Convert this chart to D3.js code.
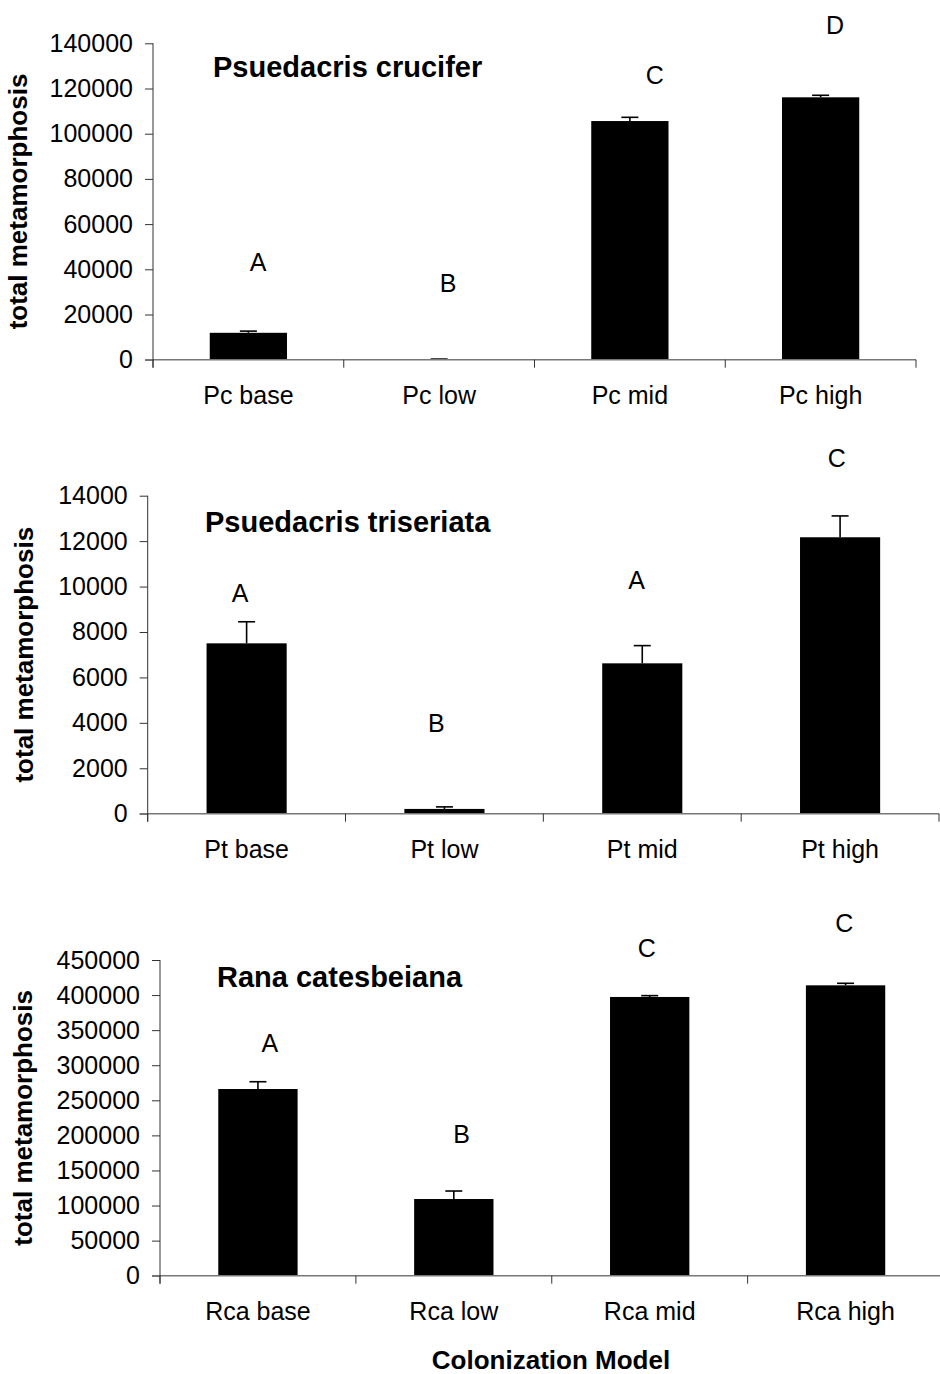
<!DOCTYPE html>
<html>
<head>
<meta charset="utf-8">
<script src="https://cdn.jsdelivr.net/npm/d3@7"></script>
<style>
  html, body { margin: 0; padding: 0; background: #fff; }
  svg { display: block; }
  text { font-family: "Liberation Sans", Arial, sans-serif; fill: #000; }
</style>
</head>
<body>
<div id="chart"></div>
<script>
// ---------------- DATA ----------------
const titles = ["Psuedacris crucifer", "Psuedacris triseriata", "Rana catesbeiana"];

const catsPc  = ["Pc base", "Pc low", "Pc mid", "Pc high"];
const catsPt  = ["Pt base", "Pt low", "Pt mid", "Pt high"];
const catsRca = ["Rca base", "Rca low", "Rca mid", "Rca high"];

const valuesPc  = [11900, 120, 105600, 116100];
const errorsPc  = [750, 150, 1650, 900];
const valuesPt  = [7500, 210, 6620, 12170];
const errorsPt  = [950, 90, 780, 940];
const valuesRca = [266100, 109300, 397300, 413900];
const errorsRca = [10400, 11400, 1900, 2900];

const lettersPc  = ["A", "B", "C", "D"];
const lettersPt  = ["A", "B", "A", "C"];
const lettersRca = ["A", "B", "C", "C"];
// letter anchor heights, in data units
const letterValPc  = [43230, 33940, 125970, 148100];
const letterValPt  = [9700, 3980, 10290, 15650];
const letterValRca = [331260, 201980, 466680, 503170];

const ticksPc  = [0, 20000, 40000, 60000, 80000, 100000, 120000, 140000];
const ticksPt  = [0, 2000, 4000, 6000, 8000, 10000, 12000, 14000];
const ticksRca = [0, 50000, 100000, 150000, 200000, 250000, 300000, 350000, 400000, 450000];

const yAxisTitle = "total metamorphosis";
const xAxisTitle = "Colonization Model";

// ---------------- LAYOUT ----------------
const W = 940, H = 1374;
const layout = [
  {left: 153,   right: 916,   top: 43.3,  bottom: 359.7,  titleX: 213, titleY: 76.7,  yTitleX: 27, letterShift: [9.6, 8.9, 25, 14.5]},
  {left: 147.7, right: 939,   top: 495.7, bottom: 813.7,  titleX: 205, titleY: 532.3, yTitleX: 33, letterShift: [-6.6, -8.2, -5.6, -3.4]},
  {left: 160,   right: 943.5, top: 960,   bottom: 1275.7, titleX: 217, titleY: 986.7, yTitleX: 32, letterShift: [12, 7.9, -2.9, -1.2]}
];

const panels = [
  {title: titles[0], cats: catsPc,  values: valuesPc,  errors: errorsPc,  letters: lettersPc,  letterVals: letterValPc,  ticks: ticksPc},
  {title: titles[1], cats: catsPt,  values: valuesPt,  errors: errorsPt,  letters: lettersPt,  letterVals: letterValPt,  ticks: ticksPt},
  {title: titles[2], cats: catsRca, values: valuesRca, errors: errorsRca, letters: lettersRca, letterVals: letterValRca, ticks: ticksRca}
];

const svg = d3.select("#chart").append("svg")
  .attr("width", W).attr("height", H)
  .attr("viewBox", `0 0 ${W} ${H}`);
svg.append("rect").attr("width", W).attr("height", H).attr("fill", "#fff");

const barFrac = 0.405;
const capHalf = 8.5;

panels.forEach((p, i) => {
  const L = layout[i];
  const g = svg.append("g");

  const y = d3.scaleLinear()
    .domain([0, d3.max(p.ticks)])
    .range([L.bottom, L.top]);

  const pad = 1 - barFrac;
  const x = d3.scaleBand()
    .domain(p.cats)
    .range([L.left, L.right])
    .paddingInner(pad)
    .paddingOuter(pad / 2);

  const xEdge = d3.scaleLinear().domain([0, p.cats.length]).range([L.left, L.right]);

  // bars
  const rows = p.cats.map((c, k) => ({c, v: p.values[k], e: p.errors[k], letter: p.letters[k], lv: p.letterVals[k], shift: L.letterShift[k]}));

  g.selectAll("rect.bar").data(rows).join("rect")
    .attr("class", "bar")
    .attr("x", d => x(d.c))
    .attr("width", x.bandwidth())
    .attr("y", d => y(d.v))
    .attr("height", d => y(0) - y(d.v))
    .attr("fill", "#000");

  // error bars
  const eg = g.selectAll("g.err").data(rows).join("g").attr("class", "err");
  eg.append("line")
    .attr("x1", d => x(d.c) + x.bandwidth() / 2)
    .attr("x2", d => x(d.c) + x.bandwidth() / 2)
    .attr("y1", d => y(d.v))
    .attr("y2", d => y(d.v + d.e))
    .attr("stroke", "#000").attr("stroke-width", 1.6);
  eg.append("line")
    .attr("x1", d => x(d.c) + x.bandwidth() / 2 - capHalf)
    .attr("x2", d => x(d.c) + x.bandwidth() / 2 + capHalf)
    .attr("y1", d => y(d.v + d.e))
    .attr("y2", d => y(d.v + d.e))
    .attr("stroke", "#000").attr("stroke-width", 1.6);

  // y axis
  const yAxis = d3.axisLeft(y)
    .tickValues(p.ticks)
    .tickFormat(d3.format("d"))
    .tickSize(8)
    .tickSizeOuter(0)
    .tickPadding(12);
  const ya = g.append("g").attr("transform", `translate(${L.left},0)`).call(yAxis);
  ya.select(".domain").remove();
  ya.selectAll(".tick line").attr("stroke", "#333").attr("stroke-width", 1);
  ya.selectAll(".tick text")
    .style("font-size", "25px")
    .style("font-family", "'Liberation Sans', Arial, sans-serif")
    .attr("fill", "#000");

  // x axis line (gray) and boundary ticks
  g.append("line")
    .attr("x1", L.left - 8).attr("x2", L.right)
    .attr("y1", y(0)).attr("y2", y(0))
    .attr("stroke", "#777").attr("stroke-width", 1.6);
  g.selectAll("line.xt").data(d3.range(p.cats.length + 1)).join("line")
    .attr("class", "xt")
    .attr("x1", d => xEdge(d)).attr("x2", d => xEdge(d))
    .attr("y1", y(0)).attr("y2", y(0) + 8)
    .attr("stroke", "#333").attr("stroke-width", 1);

  // y axis line
  g.append("line")
    .attr("x1", L.left).attr("x2", L.left)
    .attr("y1", y(d3.max(p.ticks))).attr("y2", y(0) + 8)
    .attr("stroke", "#333").attr("stroke-width", 1);

  // category labels
  const xAxis = d3.axisBottom(x).tickSize(0).tickPadding(27).tickSizeOuter(0);
  const xa = g.append("g").attr("transform", `translate(0,${y(0)})`).call(xAxis);
  xa.select(".domain").remove();
  xa.selectAll(".tick text")
    .style("font-size", "25px")
    .style("font-family", "'Liberation Sans', Arial, sans-serif")
    .attr("fill", "#000");

  // significance letters
  g.selectAll("text.letter").data(rows).join("text")
    .attr("class", "letter")
    .attr("x", d => x(d.c) + x.bandwidth() / 2 + d.shift)
    .attr("y", d => y(d.lv))
    .attr("dy", "0.358em")
    .attr("text-anchor", "middle")
    .style("font-size", "25px")
    .text(d => d.letter);

  // panel title
  g.append("text")
    .attr("x", L.titleX).attr("y", L.titleY)
    .style("font-size", "29px").style("font-weight", "bold")
    .text(p.title);

  // y axis title
  g.append("text")
    .attr("transform", `translate(${L.yTitleX},${(y(0) + y(d3.max(p.ticks))) / 2}) rotate(-90)`)
    .attr("text-anchor", "middle")
    .style("font-size", "26px").style("font-weight", "bold")
    .text(yAxisTitle);
});

// x axis title
svg.append("text")
  .attr("x", 551).attr("y", 1369)
  .attr("text-anchor", "middle")
  .style("font-size", "26px").style("font-weight", "bold")
  .text(xAxisTitle);
</script>
</body>
</html>
